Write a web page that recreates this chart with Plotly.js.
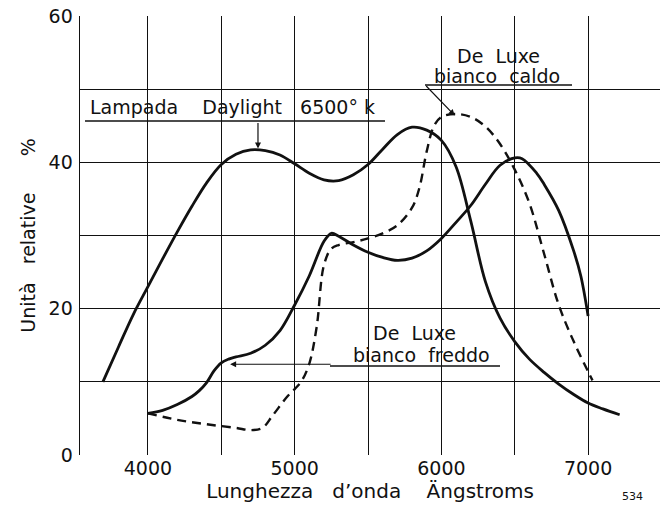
<!DOCTYPE html>
<html>
<head>
<meta charset="utf-8">
<script src="https://cdn.plot.ly/plotly-3.0.1.min.js"></script>
<style>html,body{margin:0;padding:0;background:#fff;}#chart{width:660px;height:508px;}</style>
</head>
<body>
<div id="chart"></div>
<script>
// Wavelength (Ångström) and relative units (%)
const daylightX = [3693, 3800, 3900, 4000, 4100, 4200, 4300, 4400, 4500, 4600, 4700, 4800, 4900, 5000, 5100, 5200, 5300, 5400, 5500, 5600, 5700, 5800, 5900, 6000, 6100, 6200, 6300, 6400, 6500, 6600, 6700, 6800, 6900, 7000, 7100, 7215];
const daylightY = [10, 14.8, 19.2, 23.0, 26.8, 30.5, 34.0, 37.2, 39.7, 41.1, 41.7, 41.6, 41.0, 39.8, 38.5, 37.6, 37.5, 38.3, 39.7, 41.8, 43.8, 44.8, 44.4, 43.0, 39.4, 32.0, 23.7, 18.7, 15.5, 13.1, 11.3, 9.7, 8.3, 7.1, 6.3, 5.5];

const freddoX = [4000, 4100, 4200, 4300, 4350, 4400, 4450, 4500, 4550, 4600, 4700, 4800, 4900, 5000, 5100, 5200, 5250, 5300, 5400, 5500, 5600, 5700, 5800, 5900, 6000, 6100, 6200, 6300, 6400, 6500, 6550, 6650, 6700, 6800, 6900, 6950, 7000];
const freddoY = [5.7, 6.1, 6.9, 8.0, 8.8, 9.9, 11.5, 12.6, 13.1, 13.4, 13.9, 15.0, 17.0, 20.5, 24.5, 29.2, 30.3, 29.9, 28.7, 27.7, 27.0, 26.6, 26.9, 27.9, 29.6, 31.8, 34.1, 37.0, 39.6, 40.6, 40.5, 38.5, 37.0, 33.4, 28.0, 24.5, 19];

const caldoX = [4000, 4200, 4400, 4600, 4700, 4780, 4850, 4950, 5000, 5050, 5100, 5150, 5200, 5250, 5300, 5400, 5500, 5600, 5700, 5800, 5850, 5900, 5950, 6000, 6100, 6200, 6300, 6400, 6500, 6600, 6700, 6800, 6900, 7000, 7030];
const caldoY = [5.7, 4.8, 4.2, 3.7, 3.4, 3.7, 5.4, 8.0, 9.0, 10.2, 12.5, 17.5, 26.0, 28.2, 28.7, 29.1, 29.6, 30.3, 31.4, 33.8, 36.5, 41.5, 45.0, 46.2, 46.6, 46.2, 44.9, 42.5, 39.0, 34.4, 27.5, 20.5, 15.6, 11.4, 10.2];

const xTickVals = [4000, 5000, 6000, 7000];
const xTickText = ['4000', '5000', '6000', '7000'];
const yTickVals = [0, 20, 40, 60];
const yTickText = ['0', '20', '40', '60'];

const seriesNames = ['Lampada Daylight 6500° k', 'De Luxe bianco freddo', 'De Luxe bianco caldo'];

const ink = '#111';
const FONT = 'DejaVu Sans, sans-serif';
const NB = '\u00A0';
const sp = n => NB.repeat(n);

const traces = [
  {x: daylightX, y: daylightY, name: seriesNames[0], mode: 'lines', line: {color: ink, width: 2.8, shape: 'spline', smoothing: 1}},
  {x: freddoX, y: freddoY, name: seriesNames[1], mode: 'lines', line: {color: ink, width: 2.8, shape: 'spline', smoothing: 1}},
  {x: caldoX, y: caldoY, name: seriesNames[2], mode: 'lines', line: {color: ink, width: 2.4, shape: 'spline', smoothing: 1, dash: '9px,6px'}}
];

const layout = {
  width: 660, height: 508,
  margin: {l: 80, r: 0, t: 16, b: 53},
  paper_bgcolor: '#fff', plot_bgcolor: '#fff',
  showlegend: false,
  font: {family: FONT, color: ink, size: 18},
  xaxis: {
    range: [3537, 7490],
    tickvals: xTickVals, ticktext: xTickText,
    ticks: '', 
    tickfont: {size: 19, family: FONT, color: ink},
    showgrid: true, gridcolor: ink, gridwidth: 1,
    minor: {dtick: 500, tick0: 3500, showgrid: true, gridcolor: ink, gridwidth: 1},
    zeroline: false, showline: false,
    title: {text: 'Lunghezza' + sp(3) + 'd\u2019onda' + sp(4) + '\u00C4ngstroms', font: {size: 20, family: FONT, color: ink}, standoff: 0}
  },
  yaxis: {
    range: [0, 60],
    tickvals: yTickVals, ticktext: yTickText,
    ticks: 'outside', ticklen: 2, tickcolor: 'rgba(0,0,0,0)',
    tickfont: {size: 19, family: FONT, color: ink},
    showgrid: true, gridcolor: ink, gridwidth: 1,
    minor: {dtick: 10, tick0: 0, showgrid: true, gridcolor: ink, gridwidth: 1},
    zeroline: false, showline: true, linecolor: ink, linewidth: 1.4,
    title: {text: sp(7) + 'Unità' + sp(3) + 'relative' + sp(6) + '%', font: {size: 19, family: FONT, color: ink}, standoff: 8}
  },
  shapes: [
    // underline of the Daylight label
    {type: 'line', xref: 'paper', yref: 'paper', x0: 5/580, x1: 305/580, y0: (455-121)/439, y1: (455-121)/439, line: {color: ink, width: 1.3}},
    // underline of the caldo label
    {type: 'line', xref: 'paper', yref: 'paper', x0: 345/580, x1: 492/580, y0: (455-85)/439, y1: (455-85)/439, line: {color: ink, width: 1.3}},
    // underline of the freddo label
    {type: 'line', xref: 'paper', yref: 'paper', x0: 250/580, x1: 420/580, y0: (455-366)/439, y1: (455-366)/439, line: {color: ink, width: 1.3}}
  ],
  annotations: [
    {xref: 'paper', yref: 'paper', x: 8/580, y: (455-107)/439, xanchor: 'left', yanchor: 'middle', showarrow: false,
     text: 'Lampada' + sp(4) + 'Daylight' + sp(3) + '6500°' + NB + 'k', font: {size: 19, family: FONT, color: ink}},
    {x: 4750, y: 41.9, ax: 0, ay: -27, showarrow: true, arrowhead: 2, arrowsize: 1, arrowwidth: 1.2, arrowcolor: ink, text: ''},
    {xref: 'paper', yref: 'paper', x: 418/580, y: (455-56)/439, xanchor: 'center', yanchor: 'middle', showarrow: false,
     text: 'De' + sp(2) + 'Luxe', font: {size: 19, family: FONT, color: ink}},
    {xref: 'paper', yref: 'paper', x: 417/580, y: (455-76)/439, xanchor: 'center', yanchor: 'middle', showarrow: false,
     text: 'bianco' + sp(2) + 'caldo', font: {size: 19, family: FONT, color: ink}},
    {x: 6091, y: 46.4, ax: -30, ay: -31, showarrow: true, arrowhead: 2, arrowsize: 1, arrowwidth: 1.2, arrowcolor: ink, text: ''},
    {xref: 'paper', yref: 'paper', x: 334/580, y: (455-333)/439, xanchor: 'center', yanchor: 'middle', showarrow: false,
     text: 'De' + sp(2) + 'Luxe', font: {size: 19, family: FONT, color: ink}},
    {xref: 'paper', yref: 'paper', x: 341/580, y: (455-355)/439, xanchor: 'center', yanchor: 'middle', showarrow: false,
     text: 'bianco' + sp(2) + 'freddo', font: {size: 19, family: FONT, color: ink}},
    {x: 4560, y: 12.4, ax: 102, ay: 0, showarrow: true, arrowhead: 2, arrowsize: 1, arrowwidth: 1.2, arrowcolor: ink, text: ''},
    {xref: 'paper', yref: 'paper', x: (632-80)/580, y: -42/439, xanchor: 'center', yanchor: 'middle', showarrow: false,
     text: '534', font: {size: 11, family: FONT, color: ink}}
  ]
};

Plotly.newPlot('chart', traces, layout, {displayModeBar: false, staticPlot: true});
</script>
</body>
</html>
